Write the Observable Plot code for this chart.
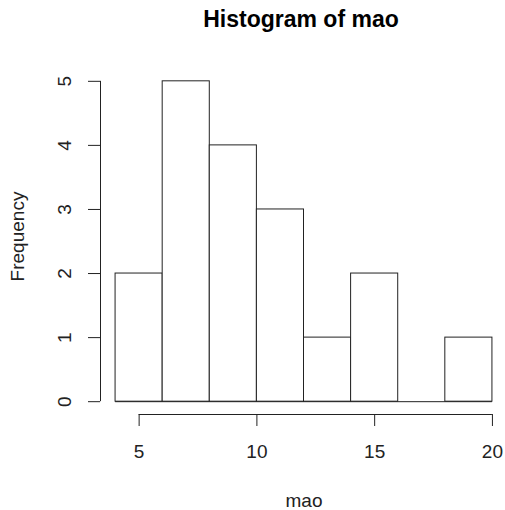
<!DOCTYPE html>
<html>
<head>
<meta charset="utf-8">
<script src="https://cdn.jsdelivr.net/npm/d3@7"></script>
<script src="https://cdn.jsdelivr.net/npm/@observablehq/plot@0.6"></script>
<style>
  html, body { margin: 0; padding: 0; background: white; }
  #wrap { width: 505px; height: 510px; overflow: hidden; background: white; }
  #title { height: 40px; box-sizing: border-box; padding-top: 8px; margin-left: 97px; width: 408px;
           font: bold 23px "Liberation Sans", Arial, sans-serif; line-height: 23px; text-align: center; color: black; }
</style>
</head>
<body>
<div id="wrap">
  <div id="title">Histogram of mao</div>
  <div id="chart"></div>
</div>
<script>
// Histogram data
const breaks = [4, 6, 8, 10, 12, 14, 16, 18, 20];
const counts = [2, 5, 4, 3, 1, 2, 0, 1];
const xTicks = [5, 10, 15, 20];
const yTicks = [0, 1, 2, 3, 4, 5];
const xLabel = "mao";
const yLabel = "Frequency";

const bins = counts.map((c, i) => ({x1: breaks[i], x2: breaks[i + 1], count: c}));

// R-style 4% axis expansion
const xMin = breaks[0], xMax = breaks[breaks.length - 1];
const xPad = (xMax - xMin) * 0.04;
const yMax = d3.max(counts);
const yPad = yMax * 0.04;
const ink = "#222";

const chart = Plot.plot({
  width: 505,
  height: 470,
  marginLeft: 100,
  marginRight: -2,
  marginTop: 28,
  marginBottom: 96,
  style: {fontFamily: '"Liberation Sans", Arial, sans-serif', fontSize: "19px", color: ink, background: "white", overflow: "visible"},
  x: {domain: [xMin - xPad, xMax + xPad]},
  y: {domain: [-yPad, yMax + yPad]},
  marks: [
    Plot.rectY(bins, {x1: "x1", x2: "x2", y: "count", fill: "white", stroke: ink, strokeWidth: 1}),
    Plot.ruleY([0], {x1: xMin, x2: xMax, stroke: ink}),
    // x axis
    Plot.ruleY([-yPad], {x1: xTicks[0], x2: xTicks[xTicks.length - 1], stroke: ink}),
    Plot.axisX({ticks: xTicks, tickSize: 12, tickPadding: 18, label: null, fontSize: 19}),
    // y axis
    Plot.ruleX([xMin - xPad], {y1: yTicks[0], y2: yTicks[yTicks.length - 1], stroke: ink}),
    Plot.axisY({ticks: yTicks, tickSize: 12, tickFormat: () => "", label: null}),
    Plot.text(yTicks, {y: d => d, text: d => String(d), frameAnchor: "left", textAnchor: "middle", lineAnchor: "middle", rotate: -90, dx: -35.5, fontSize: 19}),
    // axis titles
    Plot.text([yLabel], {y: () => yMax / 2, text: d => d, frameAnchor: "left", textAnchor: "middle", lineAnchor: "middle", rotate: -90, dx: -82.5, dy: -5, fontSize: 19}),
    Plot.text([xLabel], {x: () => (xMin + xMax) / 2, y: () => -yPad, text: d => d, textAnchor: "middle", lineAnchor: "middle", dy: 86, fontSize: 19})
  ]
});
document.getElementById("chart").appendChild(chart);
</script>
</body>
</html>
